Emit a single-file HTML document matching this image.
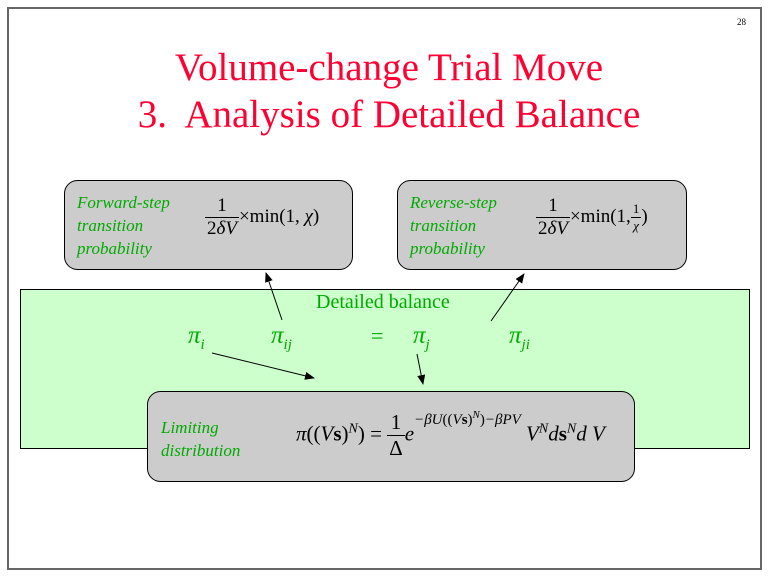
<!DOCTYPE html>
<html><head><meta charset="utf-8"><style>
body{margin:0;width:768px;height:576px;background:#fff;position:relative;overflow:hidden;font-family:"Liberation Serif",serif}
.a{position:absolute;white-space:nowrap}
.t{color:#ff0033;font-size:39px;left:0;width:778px;text-align:center}
.g{color:#00aa00}
.lab{font-style:italic;font-size:17px;line-height:23px;color:#00aa00}
.pi{font-style:italic;font-size:25px;color:#00aa00}
.pi sub{font-size:15px}
.m{font-size:19px;color:#000}
.fr{display:inline-block;text-align:center;vertical-align:middle}
.fr span{display:block;padding:0 2px}
.fr span:first-child{border-bottom:1px solid #000}
</style></head><body>
<div class="a" style="left:7px;top:7px;width:751px;height:559px;border:2px solid #666"></div>
<div class="a" style="left:737px;top:17px;font-size:9px">28</div>
<div class="a t" style="top:45px">Volume-change Trial Move</div>
<div class="a t" style="top:92px">3.&nbsp; Analysis of Detailed Balance</div>
<svg class="a" style="left:0;top:0" width="768" height="576">
<defs><marker id="ar" markerWidth="10" markerHeight="10" refX="9" refY="5" orient="auto" markerUnits="userSpaceOnUse"><path d="M0,1 L10,5 L0,9 z" fill="#000"/></marker></defs>
<rect x="20.5" y="289.5" width="729" height="159" fill="#ccffcc" stroke="#000"/>
<rect x="64.5" y="180.5" width="288" height="89" rx="13" fill="#cccccc" stroke="#000"/>
<rect x="397.5" y="180.5" width="289" height="89" rx="13" fill="#cccccc" stroke="#000"/>
<rect x="147.5" y="391.5" width="487" height="90" rx="13" fill="#cccccc" stroke="#000"/>
<line x1="282" y1="320" x2="266" y2="273" stroke="#000" marker-end="url(#ar)"/>
<line x1="491" y1="321" x2="524" y2="274" stroke="#000" marker-end="url(#ar)"/>
<line x1="212" y1="353" x2="314" y2="378" stroke="#000" marker-end="url(#ar)"/>
<line x1="417" y1="354" x2="423" y2="384" stroke="#000" marker-end="url(#ar)"/>
</svg>
<div class="a lab" style="left:77px;top:191px">Forward-step<br>transition<br>probability</div>
<div class="a lab" style="left:410px;top:191px">Reverse-step<br>transition<br>probability</div>
<div class="a m" style="left:205px;top:195px"><span class="fr"><span>1</span><span>2<i>δV</i></span></span>×min(1, <i>χ</i>)</div>
<div class="a m" style="left:536px;top:195px"><span class="fr"><span>1</span><span>2<i>δV</i></span></span>×min(1,<span class="fr" style="font-size:13px"><span>1</span><span><i>χ</i></span></span>)</div>
<div class="a g" style="left:316px;top:291px;font-size:20px">Detailed balance</div>
<div class="a pi" style="left:188px;top:322px">π<sub>i</sub></div>
<div class="a pi" style="left:271px;top:322px">π<sub>ij</sub></div>
<div class="a g" style="left:371px;top:323px;font-size:22px">=</div>
<div class="a pi" style="left:413px;top:322px">π<sub>j</sub></div>
<div class="a pi" style="left:509px;top:322px">π<sub>ji</sub></div>
<div class="a lab" style="left:161px;top:416px">Limiting<br>distribution</div>
<div class="a m" style="left:296px;top:410px;font-size:21px"><i>π</i>((<i>V</i><b>s</b>)<sup style="font-size:14px"><i>N</i></sup>) = <span class="fr"><span>1</span><span>Δ</span></span><i>e</i><sup style="font-size:15px;position:relative;top:-8px"><i>−βU</i>((<i>V</i><b>s</b>)<sup style="font-size:11px"><i>N</i></sup>)<i>−βPV</i></sup> <i>V</i><sup style="font-size:14px"><i>N</i></sup><i>d</i><b>s</b><sup style="font-size:14px"><i>N</i></sup><i>d V</i></div>
</body></html>
